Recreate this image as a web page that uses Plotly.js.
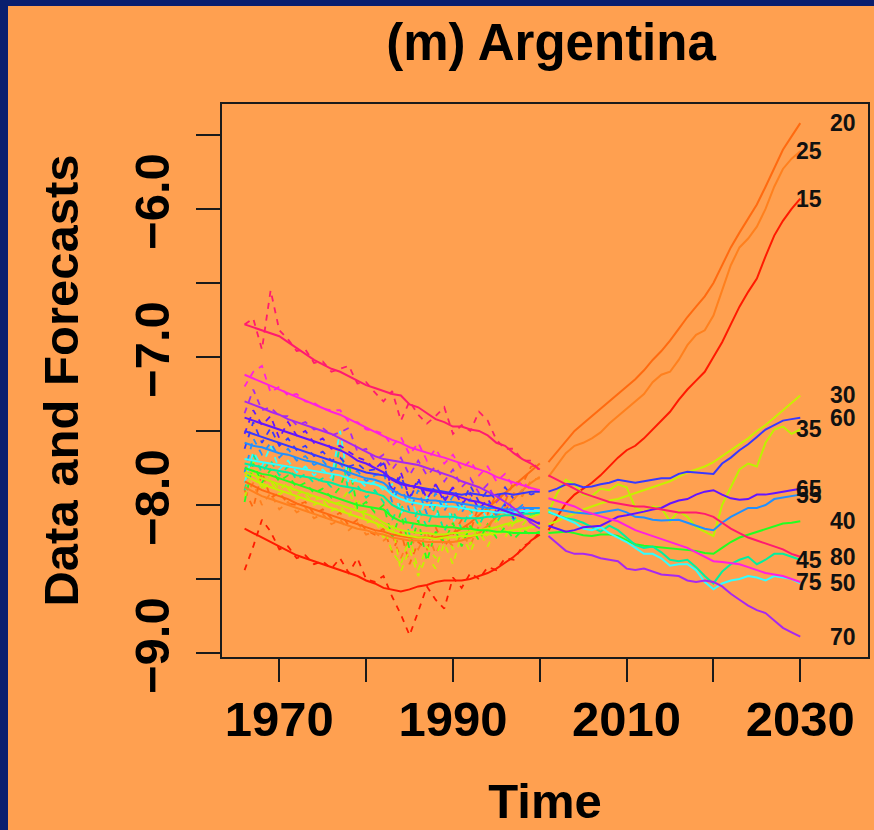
<!DOCTYPE html>
<html>
<head>
<meta charset="utf-8">
<script src="https://cdn.plot.ly/plotly-3.0.1.min.js"></script>
<style>html,body{margin:0;padding:0;background:#FFA050;}#chart{width:874px;height:830px;}</style>
</head>
<body>
<div id="chart"></div>
<script>
// ---------- data ----------
const yearsObs = [1966,1967,1968,1969,1970,1971,1972,1973,1974,1975,1976,1977,1978,1979,1980,1981,1982,1983,1984,1985,1986,1987,1988,1989,1990,1991,1992,1993,1994,1995,1996,1997,1998,1999,2000];
const yearsFc = [2001,2002,2003,2004,2005,2006,2007,2008,2009,2010,2011,2012,2013,2014,2015,2016,2017,2018,2019,2020,2021,2022,2023,2024,2025,2026,2027,2028,2029,2030];
const ages = [15,20,25,30,35,40,45,50,55,60,65,70,75,80];

// raw data (dashed)
const raw15 = [-8.44,-8.28,-8.10,-8.18,-8.30,-8.28,-8.36,-8.34,-8.40,-8.38,-8.43,-8.36,-8.46,-8.36,-8.50,-8.52,-8.48,-8.62,-8.74,-8.88,-8.72,-8.55,-8.64,-8.70,-8.49,-8.56,-8.46,-8.50,-8.42,-8.44,-8.36,-8.37,-8.28,-8.25,-8.18];
const raw20 = [-7.90,-8.02,-7.78,-7.95,-7.92,-7.99,-8.00,-7.98,-8.06,-8.03,-8.09,-8.05,-8.14,-8.10,-8.17,-8.20,-8.16,-8.32,-8.18,-8.40,-8.25,-8.30,-8.15,-8.28,-8.20,-8.10,-8.18,-8.00,-8.06,-7.92,-7.98,-7.84,-7.86,-7.74,-7.73];
const raw25 = [-7.95,-7.85,-8.00,-7.92,-8.03,-7.98,-8.05,-8.02,-8.09,-8.06,-8.13,-8.10,-8.17,-8.12,-8.20,-8.18,-8.24,-8.20,-8.36,-8.22,-8.30,-8.18,-8.33,-8.21,-8.28,-8.20,-8.27,-8.14,-8.18,-8.02,-8.06,-7.92,-7.94,-7.83,-7.82];
const raw30 = [-7.78,-7.70,-7.90,-7.84,-7.93,-7.89,-7.96,-7.93,-8.00,-7.97,-8.04,-8.01,-8.08,-7.95,-8.12,-8.10,-8.22,-8.12,-8.45,-8.30,-8.48,-8.34,-8.43,-8.26,-8.40,-8.20,-8.32,-8.18,-8.28,-8.15,-8.22,-8.12,-8.20,-8.13,-8.15];
const raw35 = [-7.95,-7.76,-7.88,-7.80,-7.90,-7.85,-7.93,-7.90,-7.97,-7.94,-8.00,-7.98,-7.90,-8.05,-8.04,-8.10,-8.14,-8.32,-8.40,-8.22,-8.44,-8.28,-8.36,-8.18,-8.30,-8.14,-8.27,-8.12,-8.22,-8.10,-8.18,-8.08,-8.14,-8.06,-8.07];
const raw40 = [-7.98,-7.72,-7.85,-7.76,-7.84,-7.80,-7.88,-7.85,-7.92,-7.89,-7.95,-7.88,-7.72,-8.02,-7.98,-8.05,-8.00,-8.22,-8.05,-8.30,-8.10,-8.38,-8.18,-8.25,-8.12,-8.28,-8.14,-8.24,-8.13,-8.22,-8.15,-8.23,-8.17,-8.20,-8.18];
const raw45 = [-7.90,-7.66,-7.78,-7.70,-7.80,-7.74,-7.83,-7.79,-7.85,-7.82,-7.88,-7.60,-7.92,-7.87,-7.95,-7.90,-7.98,-8.10,-7.98,-8.20,-8.02,-8.15,-8.00,-8.18,-8.04,-8.16,-8.03,-8.14,-8.02,-8.12,-8.03,-8.10,-8.04,-8.08,-8.05];
const raw50 = [-7.85,-7.64,-7.74,-7.60,-7.76,-7.70,-7.78,-7.74,-7.80,-7.76,-7.82,-7.50,-7.86,-7.82,-7.88,-7.84,-7.90,-7.86,-8.06,-7.92,-8.10,-7.94,-8.08,-7.96,-8.12,-7.98,-8.08,-8.00,-8.10,-8.02,-8.06,-8.02,-8.07,-8.03,-8.04];
const raw55 = [-7.78,-7.55,-7.66,-7.58,-7.68,-7.62,-7.70,-7.67,-7.73,-7.70,-7.77,-7.72,-7.80,-7.77,-7.84,-7.80,-7.78,-7.98,-7.86,-8.04,-7.90,-8.06,-7.92,-8.04,-7.94,-8.05,-7.96,-8.06,-7.98,-8.07,-7.99,-8.05,-8.00,-8.03,-8.02];
const raw60 = [-7.62,-7.44,-7.58,-7.48,-7.60,-7.55,-7.63,-7.60,-7.67,-7.64,-7.70,-7.68,-7.74,-7.72,-7.77,-7.76,-7.72,-7.92,-7.80,-7.96,-7.84,-7.98,-7.86,-7.96,-7.88,-8.00,-7.87,-7.98,-7.90,-7.97,-7.88,-7.96,-7.90,-7.93,-7.91];
const raw65 = [-7.52,-7.36,-7.46,-7.40,-7.55,-7.44,-7.53,-7.50,-7.58,-7.55,-7.62,-7.60,-7.64,-7.68,-7.70,-7.76,-7.70,-7.90,-7.78,-7.95,-7.82,-7.96,-7.86,-7.98,-7.88,-8.00,-7.92,-8.03,-7.96,-8.05,-8.00,-8.09,-8.05,-8.12,-8.12];
const raw70 = [-7.38,-7.22,-7.36,-7.34,-7.40,-7.40,-7.46,-7.44,-7.49,-7.48,-7.53,-7.51,-7.48,-7.64,-7.62,-7.70,-7.66,-7.76,-7.68,-7.80,-7.70,-7.80,-7.74,-7.84,-7.76,-7.88,-7.82,-7.92,-7.86,-7.98,-7.92,-8.05,-8.00,-8.14,-8.15];
const raw75 = [-7.20,-7.10,-7.06,-7.24,-7.20,-7.26,-7.25,-7.30,-7.31,-7.35,-7.36,-7.36,-7.44,-7.44,-7.49,-7.50,-7.52,-7.60,-7.54,-7.66,-7.58,-7.70,-7.62,-7.72,-7.66,-7.76,-7.70,-7.80,-7.74,-7.84,-7.79,-7.88,-7.84,-7.90,-7.90];
const raw80 = [-6.78,-6.74,-6.95,-6.55,-6.82,-6.88,-6.96,-6.95,-7.04,-7.03,-7.10,-7.08,-7.06,-7.18,-7.17,-7.24,-7.30,-7.23,-7.43,-7.30,-7.39,-7.45,-7.40,-7.34,-7.52,-7.46,-7.50,-7.37,-7.43,-7.56,-7.62,-7.62,-7.70,-7.70,-7.77];

// in-sample fitted (solid)
const fit15 = [-8.16,-8.19,-8.22,-8.25,-8.28,-8.31,-8.34,-8.36,-8.38,-8.40,-8.42,-8.44,-8.46,-8.48,-8.51,-8.53,-8.56,-8.57,-8.585,-8.57,-8.55,-8.54,-8.52,-8.51,-8.51,-8.51,-8.50,-8.48,-8.46,-8.43,-8.39,-8.35,-8.30,-8.24,-8.20];
const fit20 = [-7.84,-7.87,-7.90,-7.92,-7.94,-7.96,-7.99,-8.01,-8.03,-8.05,-8.07,-8.09,-8.11,-8.13,-8.15,-8.17,-8.18,-8.20,-8.21,-8.22,-8.22,-8.22,-8.22,-8.21,-8.19,-8.16,-8.12,-8.07,-8.02,-7.97,-7.92,-7.87,-7.82,-7.77,-7.72];
const fit25 = [-7.88,-7.91,-7.94,-7.96,-7.98,-8.00,-8.02,-8.04,-8.06,-8.08,-8.10,-8.12,-8.14,-8.16,-8.17,-8.19,-8.20,-8.22,-8.23,-8.24,-8.24,-8.25,-8.25,-8.25,-8.25,-8.24,-8.22,-8.19,-8.14,-8.08,-8.02,-7.96,-7.90,-7.85,-7.81];
const fit30 = [-7.80,-7.83,-7.86,-7.88,-7.90,-7.92,-7.94,-7.96,-7.98,-8.00,-8.02,-8.04,-8.06,-8.08,-8.10,-8.12,-8.15,-8.18,-8.20,-8.21,-8.22,-8.22,-8.23,-8.22,-8.22,-8.21,-8.21,-8.20,-8.20,-8.19,-8.18,-8.17,-8.16,-8.15,-8.14];
const fit35 = [-7.78,-7.80,-7.82,-7.84,-7.86,-7.88,-7.90,-7.92,-7.94,-7.96,-7.98,-8.00,-8.02,-8.04,-8.06,-8.08,-8.12,-8.15,-8.17,-8.18,-8.19,-8.19,-8.20,-8.20,-8.19,-8.19,-8.18,-8.17,-8.16,-8.15,-8.13,-8.12,-8.10,-8.08,-8.06];
const fit40 = [-7.75,-7.77,-7.79,-7.80,-7.82,-7.84,-7.86,-7.88,-7.90,-7.92,-7.94,-7.96,-7.98,-8.00,-8.01,-8.02,-8.03,-8.08,-8.11,-8.12,-8.13,-8.14,-8.14,-8.15,-8.15,-8.16,-8.16,-8.17,-8.17,-8.18,-8.18,-8.19,-8.19,-8.19,-8.19];
const fit45 = [-7.72,-7.73,-7.745,-7.76,-7.77,-7.78,-7.80,-7.81,-7.82,-7.84,-7.85,-7.87,-7.88,-7.89,-7.91,-7.92,-7.94,-8.00,-8.03,-8.05,-8.06,-8.07,-8.08,-8.08,-8.08,-8.09,-8.09,-8.09,-8.08,-8.08,-8.07,-8.07,-8.06,-8.06,-8.05];
const fit50 = [-7.69,-7.70,-7.71,-7.72,-7.73,-7.74,-7.75,-7.76,-7.77,-7.78,-7.79,-7.80,-7.82,-7.84,-7.85,-7.86,-7.88,-7.93,-7.96,-7.98,-7.99,-8.00,-8.00,-8.01,-8.01,-8.02,-8.03,-8.04,-8.04,-8.05,-8.05,-8.05,-8.04,-8.04,-8.04];
const fit55 = [-7.58,-7.60,-7.61,-7.63,-7.65,-7.66,-7.68,-7.70,-7.71,-7.73,-7.75,-7.76,-7.78,-7.80,-7.82,-7.83,-7.85,-7.90,-7.93,-7.95,-7.96,-7.97,-7.97,-7.98,-7.98,-7.99,-8.00,-8.01,-8.02,-8.02,-8.03,-8.03,-8.02,-8.02,-8.02];
const fit60 = [-7.50,-7.52,-7.54,-7.56,-7.58,-7.60,-7.62,-7.64,-7.66,-7.68,-7.70,-7.72,-7.74,-7.76,-7.78,-7.79,-7.80,-7.82,-7.85,-7.87,-7.88,-7.89,-7.90,-7.91,-7.92,-7.93,-7.92,-7.93,-7.94,-7.93,-7.92,-7.93,-7.92,-7.91,-7.91];
const fit65 = [-7.41,-7.43,-7.45,-7.47,-7.49,-7.51,-7.53,-7.55,-7.57,-7.59,-7.61,-7.63,-7.66,-7.70,-7.72,-7.75,-7.78,-7.83,-7.86,-7.87,-7.88,-7.90,-7.91,-7.92,-7.93,-7.95,-7.97,-7.98,-8.00,-8.02,-8.04,-8.06,-8.08,-8.10,-8.13];
const fit70 = [-7.30,-7.32,-7.345,-7.37,-7.39,-7.42,-7.44,-7.46,-7.48,-7.50,-7.52,-7.55,-7.58,-7.61,-7.64,-7.67,-7.69,-7.70,-7.71,-7.72,-7.73,-7.75,-7.77,-7.79,-7.81,-7.84,-7.86,-7.88,-7.91,-7.94,-7.98,-8.02,-8.07,-8.12,-8.16];
const fit75 = [-7.12,-7.145,-7.17,-7.20,-7.22,-7.245,-7.27,-7.30,-7.32,-7.345,-7.37,-7.39,-7.42,-7.45,-7.48,-7.51,-7.535,-7.56,-7.58,-7.61,-7.63,-7.65,-7.665,-7.68,-7.70,-7.72,-7.74,-7.76,-7.78,-7.81,-7.83,-7.85,-7.87,-7.885,-7.90];
const fit80 = [-6.78,-6.80,-6.82,-6.84,-6.86,-6.90,-6.94,-6.98,-7.02,-7.05,-7.08,-7.10,-7.13,-7.16,-7.19,-7.21,-7.23,-7.25,-7.26,-7.32,-7.34,-7.38,-7.42,-7.44,-7.47,-7.47,-7.49,-7.50,-7.53,-7.58,-7.60,-7.65,-7.69,-7.72,-7.76];

// forecasts 2001-2030 (solid)
const fc15 = [-8.17,-8.08,-7.99,-7.93,-7.89,-7.85,-7.80,-7.74,-7.68,-7.63,-7.60,-7.55,-7.49,-7.43,-7.37,-7.29,-7.22,-7.16,-7.10,-7.00,-6.90,-6.78,-6.66,-6.56,-6.47,-6.32,-6.18,-6.08,-6.00,-5.93];
const fc20 = [-7.71,-7.64,-7.57,-7.50,-7.45,-7.40,-7.35,-7.30,-7.25,-7.20,-7.15,-7.09,-7.02,-6.96,-6.89,-6.81,-6.73,-6.66,-6.59,-6.50,-6.38,-6.26,-6.16,-6.06,-5.97,-5.85,-5.72,-5.60,-5.51,-5.42];
const fc25 = [-7.81,-7.73,-7.65,-7.60,-7.58,-7.55,-7.51,-7.45,-7.40,-7.35,-7.30,-7.25,-7.17,-7.12,-7.10,-7.02,-6.92,-6.85,-6.82,-6.72,-6.55,-6.38,-6.26,-6.20,-6.12,-6.00,-5.85,-5.73,-5.66,-5.61];
const fc30 = [-8.13,-8.11,-8.08,-8.06,-8.03,-8.01,-7.99,-7.97,-7.96,-7.94,-7.92,-7.90,-7.88,-7.86,-7.84,-7.81,-7.78,-7.76,-7.74,-7.71,-7.67,-7.63,-7.59,-7.55,-7.50,-7.46,-7.41,-7.36,-7.31,-7.26];
const fc35 = [-8.05,-7.92,-7.83,-7.86,-7.93,-7.94,-7.89,-7.90,-7.86,-7.88,-8.02,-8.05,-8.01,-8.02,-8.11,-8.04,-8.08,-8.15,-8.18,-8.21,-8.00,-7.88,-7.76,-7.72,-7.74,-7.58,-7.49,-7.47,-7.52,-7.49];
const fc40 = [-8.19,-8.185,-8.18,-8.19,-8.205,-8.21,-8.20,-8.20,-8.21,-8.24,-8.265,-8.275,-8.28,-8.285,-8.29,-8.295,-8.30,-8.31,-8.325,-8.33,-8.29,-8.25,-8.22,-8.20,-8.18,-8.16,-8.14,-8.125,-8.12,-8.11];
const fc45 = [-8.05,-8.07,-8.09,-8.10,-8.12,-8.15,-8.18,-8.14,-8.17,-8.22,-8.27,-8.29,-8.28,-8.32,-8.37,-8.38,-8.37,-8.42,-8.48,-8.53,-8.45,-8.40,-8.37,-8.35,-8.40,-8.37,-8.33,-8.33,-8.35,-8.37];
const fc50 = [-8.045,-8.07,-8.09,-8.12,-8.16,-8.17,-8.15,-8.19,-8.22,-8.25,-8.29,-8.33,-8.33,-8.36,-8.41,-8.40,-8.40,-8.44,-8.52,-8.57,-8.53,-8.51,-8.50,-8.48,-8.49,-8.51,-8.48,-8.49,-8.50,-8.53];
const fc55 = [-8.02,-8.03,-8.045,-8.05,-8.055,-8.06,-8.05,-8.04,-8.03,-8.05,-8.08,-8.085,-8.10,-8.105,-8.10,-8.10,-8.12,-8.14,-8.16,-8.17,-8.12,-8.08,-8.05,-8.02,-8.02,-8.00,-7.96,-7.95,-7.94,-7.93];
const fc60 = [-7.91,-7.89,-7.86,-7.86,-7.88,-7.875,-7.86,-7.85,-7.83,-7.84,-7.85,-7.84,-7.83,-7.82,-7.82,-7.79,-7.775,-7.78,-7.79,-7.79,-7.72,-7.68,-7.63,-7.59,-7.54,-7.49,-7.46,-7.43,-7.42,-7.41];
const fc65 = [-8.14,-8.16,-8.18,-8.17,-8.15,-8.145,-8.14,-8.11,-8.08,-8.07,-8.06,-8.045,-8.03,-8.02,-7.99,-7.97,-7.96,-7.93,-7.91,-7.90,-7.93,-7.955,-7.965,-7.96,-7.93,-7.93,-7.92,-7.91,-7.90,-7.89];
const fc70 = [-8.21,-8.26,-8.31,-8.33,-8.33,-8.34,-8.36,-8.37,-8.38,-8.43,-8.44,-8.43,-8.45,-8.47,-8.475,-8.48,-8.51,-8.52,-8.51,-8.52,-8.55,-8.60,-8.64,-8.68,-8.71,-8.73,-8.78,-8.83,-8.86,-8.89];
const fc75 = [-7.955,-7.975,-7.99,-8.01,-8.04,-8.06,-8.08,-8.095,-8.11,-8.14,-8.17,-8.19,-8.21,-8.23,-8.25,-8.27,-8.29,-8.32,-8.35,-8.38,-8.385,-8.39,-8.40,-8.42,-8.44,-8.46,-8.47,-8.48,-8.50,-8.52];
const fc80 = [-7.80,-7.83,-7.86,-7.89,-7.92,-7.94,-7.96,-7.98,-7.99,-8.00,-8.01,-8.01,-8.02,-8.03,-8.04,-8.05,-8.05,-8.05,-8.06,-8.08,-8.12,-8.16,-8.19,-8.22,-8.24,-8.26,-8.28,-8.30,-8.33,-8.35];

// tick labels
const xTickVals = [1970,1980,1990,2000,2010,2020,2030];
const xTickText = ['1970','','1990','','2010','','2030'];
const yTickVals = [-9.0,-8.5,-8.0,-7.5,-7.0,-6.5,-6.0,-5.5];
const yTickText = ['\u22129.0','','\u22128.0','','\u22127.0','','\u22126.0',''];

// ---------- styles ----------
const colors = ['#FF1A00','#FF6A10','#FF801E','#C8F000','#BDF200','#22FF22','#00F0A0','#30FFFF','#2090FF','#3838FF','#6414FF','#A828F0','#FF20E0','#FF1A70'];
const labelColX = [2031.0, 2034.9]; // alternate label columns

const raws = [raw15,raw20,raw25,raw30,raw35,raw40,raw45,raw50,raw55,raw60,raw65,raw70,raw75,raw80];
const fits = [fit15,fit20,fit25,fit30,fit35,fit40,fit45,fit50,fit55,fit60,fit65,fit70,fit75,fit80];
const fcs  = [fc15,fc20,fc25,fc30,fc35,fc40,fc45,fc50,fc55,fc60,fc65,fc70,fc75,fc80];

const traces = [];
ages.forEach((a,i)=>{
  traces.push({x:yearsObs, y:raws[i], type:'scatter', mode:'lines', hoverinfo:'skip',
    line:{color:colors[i], width:1.8, dash:'6px,6px'}});
});
ages.forEach((a,i)=>{
  traces.push({x:yearsObs, y:fits[i], type:'scatter', mode:'lines', name:String(a),
    line:{color:colors[i], width:2}});
});
ages.forEach((a,i)=>{
  traces.push({x:yearsFc, y:fcs[i], type:'scatter', mode:'lines', name:String(a),
    line:{color:colors[i], width:2}});
});

const annotations = ages.map((a,i)=>({
  x: labelColX[i%2], y: fcs[i][fcs[i].length-1], xref:'x', yref:'y',
  text: String(a), showarrow:false, xanchor:'center', yanchor:'middle',
  font:{size:23, weight:700, color:'#111', family:'Liberation Sans, Arial, sans-serif'}
}));

const W=874, H=830, ML=222, MR=6, MT=104, MB=173;
const pw = W-ML-MR, ph = H-MT-MB;
const px = v => (v-ML)/pw, py = v => (H-MB-v)/ph;

const layout = {
  width:W, height:H,
  margin:{l:ML, r:MR, t:MT, b:MB, pad:0},
  paper_bgcolor:'#FFA050', plot_bgcolor:'rgba(0,0,0,0)',
  showlegend:false,
  font:{family:'Liberation Sans, Arial, sans-serif', color:'#000'},
  title:{text:'(m) Argentina', font:{size:51, weight:700, color:'#000'},
    xref:'container', x:551/874, xanchor:'center', yref:'container', y:1-42/830, yanchor:'middle'},
  xaxis:{range:[1963.40,2037.80], tickvals:xTickVals, ticktext:xTickText, ticks:'outside',
    ticklen:23, tickwidth:2, tickcolor:'#1a1a1a', showline:true, mirror:true, linewidth:2,
    linecolor:'#1a1a1a', showgrid:false, zeroline:false, automargin:false, ticklabelstandoff:-5,
    tickfont:{size:49, weight:700, color:'#000'},
    title:{text:'Time', font:{size:49, weight:700, color:'#000'}, standoff:39}},
  yaxis:{range:[-9.027,-5.291], tickvals:yTickVals, ticktext:yTickText, tickangle:-90, ticks:'outside',
    ticklen:24, tickwidth:2, tickcolor:'#1a1a1a', showline:true, mirror:true, linewidth:2,
    linecolor:'#1a1a1a', showgrid:false, zeroline:false, automargin:false, ticklabelstandoff:7,
    tickfont:{size:49, weight:700, color:'#000'},
    title:{text:'Data and Forecasts', font:{size:49, weight:700, color:'#000'}, standoff:31}},
  annotations:annotations,
  shapes:[
    {type:'rect', xref:'paper', yref:'paper', x0:px(-50), x1:px(8), y0:py(900), y1:py(-50),
      fillcolor:'#0a1e6e', line:{width:0}, layer:'below'},
    {type:'rect', xref:'paper', yref:'paper', x0:px(-50), x1:px(950), y0:py(6), y1:py(-50),
      fillcolor:'#0a1e6e', line:{width:0}, layer:'below'}
  ]
};

Plotly.newPlot('chart', traces, layout, {displayModeBar:false, staticPlot:true});
</script>
</body>
</html>
